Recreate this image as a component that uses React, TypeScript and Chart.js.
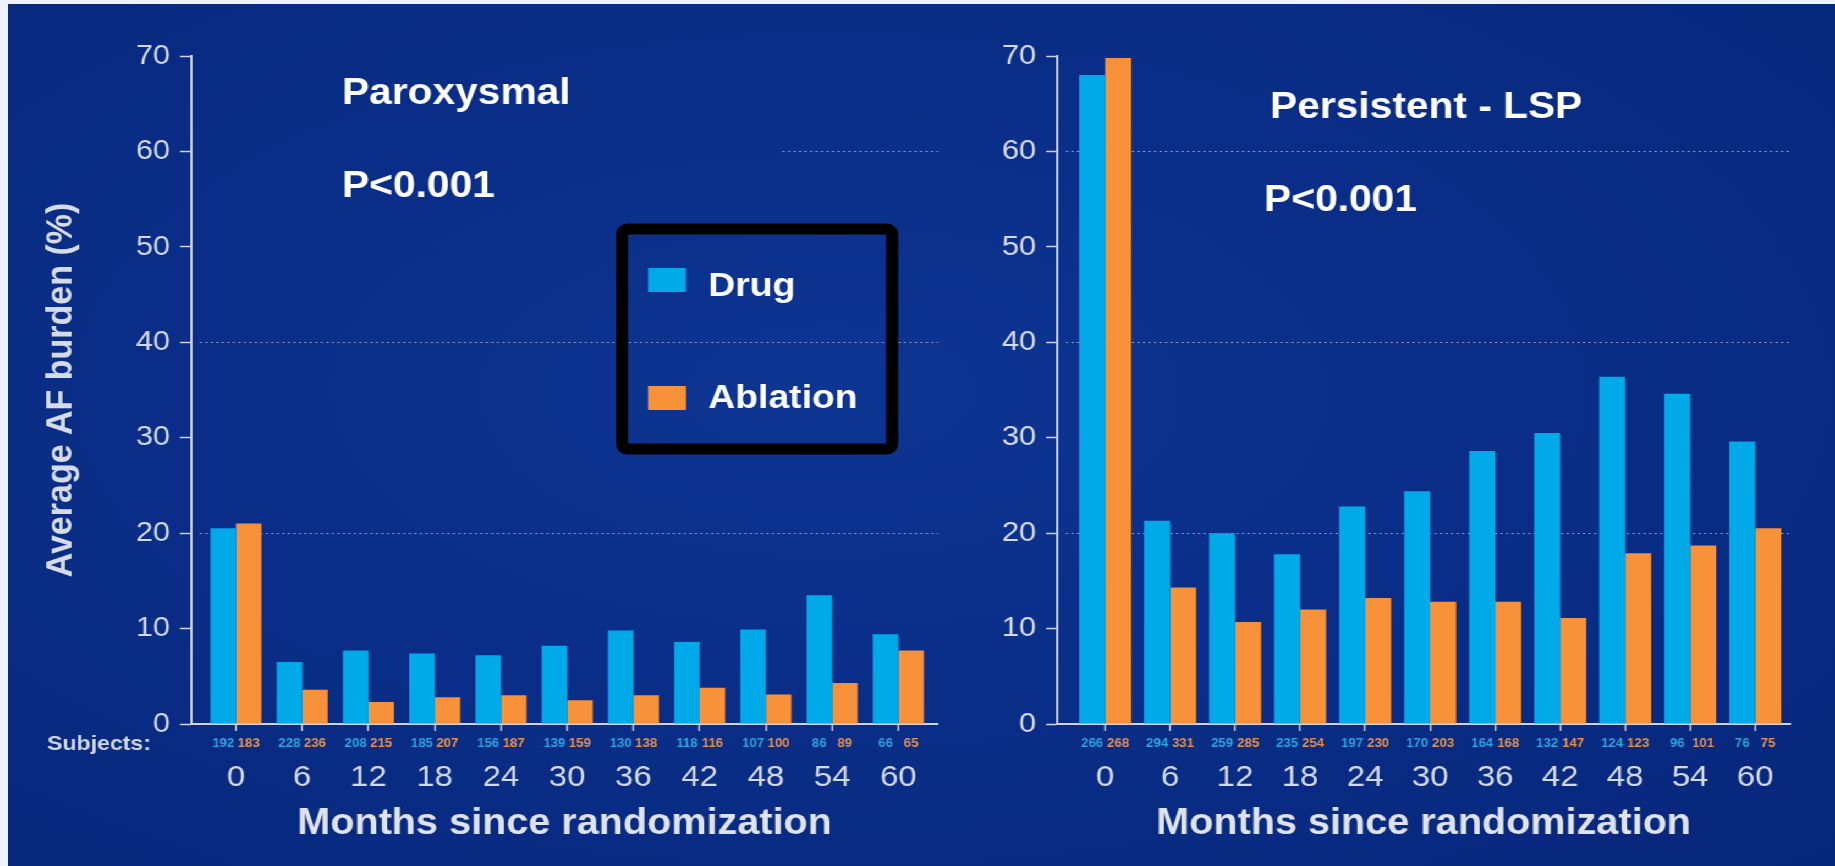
import React, { useEffect, useRef } from 'react';
import { Chart, registerables } from 'chart.js';

Chart.register(...registerables);

// ---------- data ----------
const months = [0, 6, 12, 18, 24, 30, 36, 42, 48, 54, 60];
const yTickValues = [0, 10, 20, 30, 40, 50, 60, 70];

const paroxDrug = [20.5, 6.5, 7.7, 7.4, 7.2, 8.2, 9.8, 8.6, 9.9, 13.5, 9.4];
const paroxAblation = [21.0, 3.6, 2.3, 2.8, 3.0, 2.5, 3.0, 3.8, 3.1, 4.3, 7.7];
const persDrug = [68.0, 21.3, 20.0, 17.8, 22.8, 24.4, 28.6, 30.5, 36.4, 34.6, 29.6];
const persAblation = [69.8, 14.3, 10.7, 12.0, 13.2, 12.8, 12.8, 11.1, 17.9, 18.7, 20.5];

const paroxDrugN = [192, 228, 208, 185, 156, 139, 130, 118, 107, 86, 66];
const paroxAblationN = [183, 236, 215, 207, 187, 159, 138, 116, 100, 89, 65];
const persDrugN = [266, 294, 259, 235, 197, 170, 164, 132, 124, 96, 76];
const persAblationN = [268, 331, 285, 254, 230, 203, 168, 147, 123, 101, 75];

const seriesNames = ['Drug', 'Ablation'];
const seriesColors = ['#00a9e8', '#f7923a'];
const countColors = ['#2aa6e4', '#e99248'];

// ---------- layout helpers ----------
const S = 1.1; // horizontal stretch of the slide
const PAGE_W = 1835;
const PAGE_H = 866;
const W = Math.round(PAGE_W / S);
const u = (px: number) => px / S;
const FONT = '"Liberation Sans", Arial, Helvetica, sans-serif';
const AXIS_COLOR = '#cdd2e6';
const LABEL_COLOR = '#d4d9e8';

const decorPlugin = {
  id: 'decor',
  beforeDatasetsDraw(chart: any, _args: any, opts: any) {
    const { ctx, chartArea } = chart;
    const y = chart.scales.y;
    ctx.save();
    ctx.strokeStyle = 'rgba(205,212,232,0.7)';
    ctx.lineWidth = 1;
    ctx.setLineDash([2, 3]);
    for (const g of opts.grid || []) {
      const py = Math.round(y.getPixelForValue(g.value)) + 0.5;
      const x0 = chartArea.left + 8 + (chartArea.right - chartArea.left) * g.from;
      ctx.beginPath();
      ctx.moveTo(x0, py);
      ctx.lineTo(chartArea.right, py);
      ctx.stroke();
    }
    ctx.restore();
  },
  afterDraw(chart: any, _args: any, opts: any) {
    const { ctx } = chart;
    ctx.save();
    ctx.textBaseline = 'middle';
    ctx.textAlign = 'left';
    for (const t of opts.texts || []) {
      ctx.font = t.font;
      ctx.fillStyle = t.color;
      ctx.fillText(t.text, t.x, t.y);
    }
    // subject counts under each bar
    ctx.font = `bold 12px ${FONT}`;
    ctx.textAlign = 'center';
    chart.data.datasets.forEach((_ds: any, d: number) => {
      const meta = chart.getDatasetMeta(d);
      ctx.fillStyle = countColors[d];
      meta.data.forEach((el: any, i: number) => {
        ctx.fillText(String(opts.counts[d][i]), el.x, opts.countY);
      });
    });
    // legend box
    if (opts.legend) {
      const L = opts.legend;
      ctx.strokeStyle = '#000000';
      ctx.lineWidth = 11;
      ctx.beginPath();
      (ctx as any).roundRect(L.x0, L.y0, L.x1 - L.x0, L.y1 - L.y0, 5);
      ctx.stroke();
      ctx.textAlign = 'left';
      ctx.font = `bold 34px ${FONT}`;
      chart.data.datasets.forEach((ds: any, d: number) => {
        const it = L.items[d];
        ctx.fillStyle = ds.backgroundColor;
        ctx.fillRect(L.sqX, it.sqY, L.sqW, it.sqH);
        ctx.fillStyle = '#ffffff';
        ctx.fillText(ds.label, L.textX, it.textY);
      });
    }
    ctx.restore();
  },
};

function makeConfig(p: {
  drug: number[];
  ablation: number[];
  drugN: number[];
  ablationN: number[];
  axisX: number;
  axisEnd: number;
  xMin: number;
  xMax: number;
  catPct: number;
  yTitle: string | null;
  grid: { value: number; from: number }[];
  texts: any[];
  legend: any;
}) {
  return {
    type: 'bar',
    data: {
      datasets: [
        {
          label: seriesNames[0],
          data: months.map((m, i) => ({ x: m, y: p.drug[i] })),
          backgroundColor: seriesColors[0],
          borderWidth: 0,
          categoryPercentage: p.catPct,
          barPercentage: 1.0,
        },
        {
          label: seriesNames[1],
          data: months.map((m, i) => ({ x: m, y: p.ablation[i] })),
          backgroundColor: seriesColors[1],
          borderWidth: 0,
          categoryPercentage: p.catPct,
          barPercentage: 1.0,
        },
      ],
    },
    options: {
      responsive: false,
      maintainAspectRatio: false,
      animation: false,
      devicePixelRatio: 1,
      events: [],
      layout: { padding: { left: 0, top: 56, right: W - u(p.axisEnd), bottom: 0 } },
      plugins: {
        legend: { display: false },
        tooltip: { enabled: false },
        decor: {
          grid: p.grid,
          texts: p.texts,
          counts: [p.drugN, p.ablationN],
          countY: 744,
          legend: p.legend,
        },
      },
      scales: {
        x: {
          type: 'linear',
          min: p.xMin,
          max: p.xMax,
          offset: false,
          afterFit: (s: any) => {
            s.height = PAGE_H - 724;
          },
          afterBuildTicks: (s: any) => {
            s.ticks = months.map((v) => ({ value: v }));
          },
          grid: {
            offset: false,
            drawOnChartArea: false,
            drawTicks: true,
            tickLength: 7,
            tickColor: AXIS_COLOR,
            tickWidth: 1.5,
          },
          border: { display: true, color: AXIS_COLOR, width: 2 },
          ticks: {
            autoSkip: false,
            maxRotation: 0,
            padding: 29,
            color: LABEL_COLOR,
            font: { family: FONT, size: 30 },
            callback: (v: any) => String(v),
          },
          title: {
            display: true,
            text: 'Months since randomization',
            color: '#dfe3ee',
            font: { family: FONT, size: 36, weight: 'bold' },
            padding: { top: 0, bottom: 20 },
          },
        },
        y: {
          min: 0,
          max: 70,
          afterFit: (s: any) => {
            s.width = u(p.axisX);
          },
          afterBuildTicks: (s: any) => {
            s.ticks = yTickValues.map((v) => ({ value: v }));
          },
          grid: {
            drawOnChartArea: false,
            drawTicks: true,
            tickLength: 10,
            tickColor: AXIS_COLOR,
            tickWidth: 1.5,
          },
          border: { display: true, color: AXIS_COLOR, width: 2 },
          ticks: {
            padding: 9,
            color: LABEL_COLOR,
            font: { family: FONT, size: 28 },
          },
          title: {
            display: !!p.yTitle,
            text: p.yTitle || '',
            color: '#d6dbe8',
            font: { family: FONT, size: 34, weight: 'bold' },
            padding: { top: u(61) - 20.4, bottom: 0 },
          },
        },
      },
    },
    plugins: [decorPlugin],
  } as any;
}

export default function App() {
  const leftRef = useRef<HTMLCanvasElement>(null);
  const rightRef = useRef<HTMLCanvasElement>(null);

  useEffect(() => {
    const white = '#ffffff';
    const titleFont = `bold 37px ${FONT}`;
    const left = new Chart(
      leftRef.current as HTMLCanvasElement,
      makeConfig({
        drug: paroxDrug,
        ablation: paroxAblation,
        drugN: paroxDrugN,
        ablationN: paroxAblationN,
        axisX: 191,
        axisEnd: 938,
        xMin: -4.07,
        xMax: 63.6,
        catPct: 0.77,
        yTitle: 'Average AF burden (%)',
        grid: [
          { value: 20, from: 0 },
          { value: 40, from: 0 },
          { value: 60, from: 0.78 },
        ],
        texts: [
          { text: 'Paroxysmal', x: u(342), y: 94, font: titleFont, color: white },
          { text: 'P<0.001', x: u(342), y: 187, font: titleFont, color: white },
          { text: 'Subjects:', x: u(47), y: 744, font: `bold 21px ${FONT}`, color: '#cfd6e6' },
        ],
        legend: {
          x0: u(622),
          x1: u(892),
          y0: 229,
          y1: 449,
          sqX: u(648),
          sqW: u(686) - u(648),
          textX: u(708),
          items: [
            { sqY: 268, sqH: 24, textY: 287 },
            { sqY: 386, sqH: 24, textY: 399 },
          ],
        },
      })
    );
    const right = new Chart(
      rightRef.current as HTMLCanvasElement,
      makeConfig({
        drug: persDrug,
        ablation: persAblation,
        drugN: persDrugN,
        ablationN: persAblationN,
        axisX: 1057,
        axisEnd: 1790,
        xMin: -4.43,
        xMax: 63.23,
        catPct: 0.8,
        yTitle: null,
        grid: [
          { value: 20, from: 0 },
          { value: 40, from: 0 },
          { value: 60, from: 0 },
        ],
        texts: [
          { text: 'Persistent - LSP', x: u(1270), y: 108, font: titleFont, color: white },
          { text: 'P<0.001', x: u(1264), y: 201, font: titleFont, color: white },
        ],
        legend: null,
      })
    );
    return () => {
      left.destroy();
      right.destroy();
    };
  }, []);

  return (
    <div
      style={{
        position: 'absolute',
        left: 0,
        top: 0,
        width: PAGE_W,
        height: PAGE_H,
        overflow: 'hidden',
        background: '#eef2fa',
      }}
    >
      <div
        style={{
          position: 'absolute',
          left: 8,
          top: 4,
          right: 0,
          bottom: 0,
          background:
            'radial-gradient(ellipse at 45% 45%, #0d3592 0%, #0a2e88 45%, #06267a 100%)',
        }}
      />
      <div
        style={{
          position: 'absolute',
          left: 0,
          top: 0,
          width: W,
          height: PAGE_H,
          transform: `scaleX(${PAGE_W / W})`,
          transformOrigin: '0 0',
        }}
      >
        <canvas
          ref={leftRef}
          width={W}
          height={PAGE_H}
          style={{ position: 'absolute', left: 0, top: 0, width: W, height: PAGE_H }}
        />
        <canvas
          ref={rightRef}
          width={W}
          height={PAGE_H}
          style={{ position: 'absolute', left: 0, top: 0, width: W, height: PAGE_H }}
        />
      </div>
    </div>
  );
}
